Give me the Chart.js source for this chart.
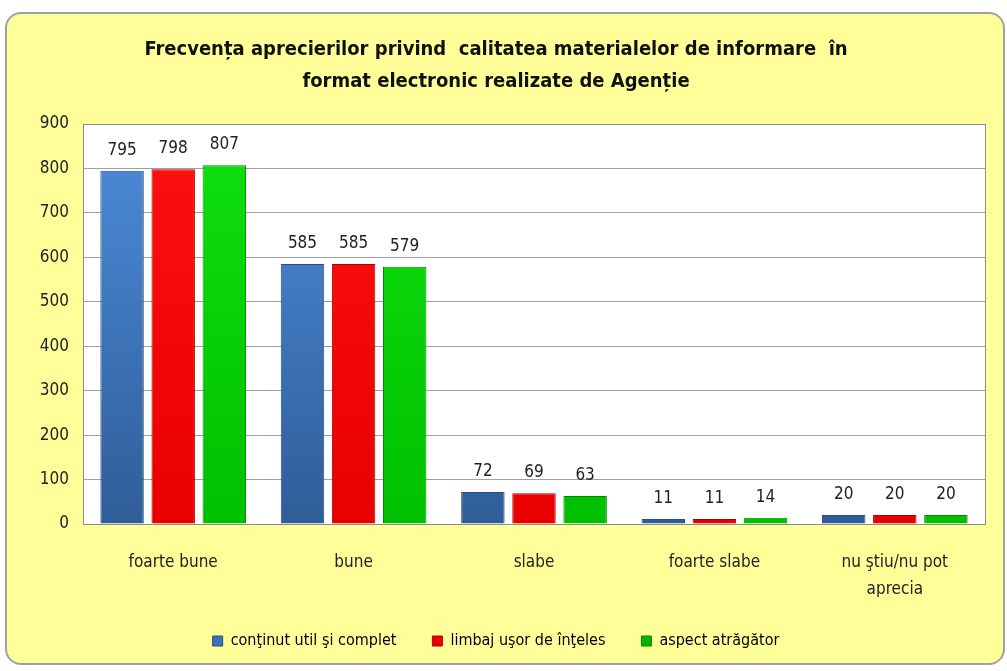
<!DOCTYPE html>
<html>
<head>
    <title>Frecventa aprecierilor</title>
    <script src="https://cdn.jsdelivr.net/npm/chart.js"></script>
    <style>
        body {
            margin: 0;
            background: #ffffff;
        }

        .frame {
            position: absolute;
            left: 5px;
            top: 12px;
            width: 996px;
            height: 649px;
            background: #FFFF99;
            border: 2px solid #a0a0a0;
            border-radius: 16px;
        }
    </style>
</head>
<body>
    <div class="frame">
        <canvas id="graph" width="996" height="649"></canvas>
    </div>

    <script>
        const categories = ['foarte bune', 'bune', 'slabe', 'foarte slabe', ['nu ştiu/nu pot', 'aprecia']];
        const continutUtil = [795, 585, 72, 11, 20];
        const limbajUsor = [798, 585, 69, 11, 20];
        const aspectAtragator = [807, 579, 63, 14, 20];
        const seriesNames = ['conţinut util şi complet', 'limbaj uşor de înţeles', 'aspect atrăgător'];
        const titleLines = ['Frecvența aprecierilor privind  calitatea materialelor de informare  în', 'format electronic realizate de Agenție'];

        const fontFamily = '"Liberation Sans Narrow", "DejaVu Sans Condensed", "Open Sans", sans-serif';

        // vertical gradient for each bar, light top to darker bottom
        function barFill(top, bottom) {
            return (context) => {
                const chart = context.chart;
                const area = chart.chartArea;
                if (!area) return top;
                const g = chart.ctx.createLinearGradient(0, area.top, 0, area.bottom);
                g.addColorStop(0, top);
                g.addColorStop(1, bottom);
                return g;
            };
        }

        const plotBackground = {
            id: 'plotBackground',
            beforeDraw(chart) {
                const { ctx, chartArea } = chart;
                ctx.save();
                ctx.fillStyle = '#ffffff';
                ctx.fillRect(chartArea.left, chartArea.top, chartArea.right - chartArea.left, chartArea.bottom - chartArea.top);
                ctx.restore();
            },
            afterDatasetsDraw(chart) {
                const { ctx, chartArea } = chart;
                ctx.save();
                ctx.strokeStyle = '#8c8c8c';
                ctx.lineWidth = 1;
                ctx.strokeRect(chartArea.left + 0.5, chartArea.top + 0.5, chartArea.right - chartArea.left, chartArea.bottom - chartArea.top);
                ctx.restore();
            }
        };

        const valueLabels = {
            id: 'valueLabels',
            afterDatasetsDraw(chart) {
                const ctx = chart.ctx;
                ctx.save();
                ctx.font = '17px ' + fontFamily;
                ctx.fillStyle = '#222222';
                ctx.textAlign = 'center';
                ctx.textBaseline = 'bottom';
                chart.data.datasets.forEach((ds, i) => {
                    chart.getDatasetMeta(i).data.forEach((bar, j) => {
                        ctx.fillText(ds.data[j], bar.x, bar.y - 12);
                    });
                });
                ctx.restore();
            }
        };

        const ctx = document.getElementById('graph').getContext('2d');

        new Chart(ctx, {
            type: 'bar',
            data: {
                labels: categories,
                datasets: [{
                    label: seriesNames[0],
                    data: continutUtil,
                    backgroundColor: barFill('#4d8ddb', '#2f5d98'),
                    borderColor: '#2a4f80',
                    borderWidth: 1
                }, {
                    label: seriesNames[1],
                    data: limbajUsor,
                    backgroundColor: barFill('#ff1010', '#e80000'),
                    borderColor: '#b00000',
                    borderWidth: 1
                }, {
                    label: seriesNames[2],
                    data: aspectAtragator,
                    backgroundColor: barFill('#10e010', '#00c000'),
                    borderColor: '#008800',
                    borderWidth: 1
                }]
            },
            options: {
                responsive: false,
                animation: false,
                layout: {
                    padding: { left: 0, right: 18, top: 0, bottom: 4 }
                },
                datasets: {
                    bar: {
                        categoryPercentage: 0.85,
                        barPercentage: 0.85
                    }
                },
                plugins: {
                    title: {
                        display: true,
                        text: titleLines,
                        color: '#111111',
                        font: { family: fontFamily, size: 20, weight: 'bold', lineHeight: 1.6 },
                        padding: { top: 20, bottom: 26 }
                    },
                    legend: {
                        position: 'bottom',
                        labels: {
                            boxWidth: 10,
                            boxHeight: 10,
                            color: '#111111',
                            padding: 36,
                            font: { family: fontFamily, size: 16 },
                            generateLabels(chart) {
                                const fills = ['#3a74bc', '#ee0000', '#00b400'];
                                return chart.data.datasets.map((ds, i) => ({
                                    text: ds.label,
                                    fillStyle: fills[i],
                                    strokeStyle: ds.borderColor,
                                    lineWidth: 1,
                                    datasetIndex: i
                                }));
                            }
                        }
                    },
                    tooltip: { enabled: false }
                },
                scales: {
                    x: {
                        grid: { display: false },
                        border: { display: false },
                        ticks: {
                            color: '#222222',
                            padding: 17,
                            font: { family: fontFamily, size: 17, lineHeight: 1.6 }
                        },
                        afterFit(scale) {
                            scale.height = 73;
                        }
                    },
                    y: {
                        min: 0,
                        max: 900,
                        border: { display: false },
                        grid: { color: '#a0a0a0', drawTicks: false },
                        ticks: {
                            stepSize: 100,
                            color: '#222222',
                            padding: 14,
                            font: { family: fontFamily, size: 17 }
                        },
                        afterFit(scale) {
                            scale.width = 76;
                        }
                    }
                }
            },
            plugins: [plotBackground, valueLabels]
        });
    </script>
</body>
</html>
